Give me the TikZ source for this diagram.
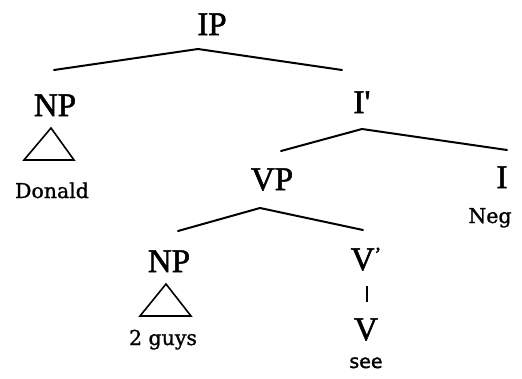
\documentclass[tikz,border=0pt]{standalone}
\usepackage{fontspec}
\setmainfont{Liberation Serif}
\newfontfamily\catfont{Liberation Serif}[FakeBold=1.6]
\newfontfamily\smallserif{DejaVu Serif}[FakeBold=1.2]
\newfontfamily\smallsans{DejaVu Sans}[FakeBold=1.5]
\begin{document}
\begin{tikzpicture}[x=1pt,y=-1pt,
  cat/.style={inner sep=0pt,anchor=base,font=\catfont\fontsize{33}{33}\selectfont},
  word/.style={inner sep=0pt,anchor=base,font=\smallserif\fontsize{20.5}{21}\selectfont},
  sword/.style={inner sep=0pt,anchor=base,font=\smallsans\fontsize{19}{19}\selectfont},
  branch/.style={line width=2pt,line cap=round,line join=round},
  tri/.style={line width=1.6pt,line join=miter}]
\useasboundingbox (0,0) rectangle (522,378);
% category labels
\node[cat] (ip) at (212,35) {IP};
\node[cat] (np1) at (55,116) {NP};
\node[cat] (ibar) at (362,113) {I\textquotesingle};
\node[cat] (vp) at (272,190) {VP};
\node[cat] (i) at (502,188) {I};
\node[cat] (np2) at (169,272) {NP};
\node[cat] (vbar) at (366,270) {V\raisebox{9pt}{\fontsize{20}{20}\selectfont\textquoteright}};
\node[cat] (v) at (366,340) {V};
% words
\node[word] (donald) at (52,198) {Donald};
\node[word] (neg) at (490,223) {Neg};
\node[word] (guys) at (163,345) {2 guys};
\node[sword] (see) at (366,368) {see};
% branch points
\coordinate (ipA) at (198,49);
\coordinate (ipL) at (54,70);
\coordinate (ipR) at (342,70);
\coordinate (ibA) at (362,129);
\coordinate (ibL) at (281,151);
\coordinate (ibR) at (507,150);
\coordinate (vpA) at (260,208);
\coordinate (vpL) at (178,231);
\coordinate (vpR) at (363,230);
\coordinate (vbT) at (367,286);
\coordinate (vbB) at (367,302);
\draw[branch] (ipL) -- (ipA) -- (ipR);
\draw[branch] (ibL) -- (ibA) -- (ibR);
\draw[branch] (vpL) -- (vpA) -- (vpR);
\draw[line width=1.5pt] (vbT) -- (vbB);
% triangles
\coordinate (t1a) at (51,128);
\coordinate (t1l) at (24,160);
\coordinate (t1r) at (74,160);
\draw[tri] (t1a) -- (t1l) -- (t1r) -- cycle;
\coordinate (t2a) at (166,284);
\coordinate (t2l) at (140,316);
\coordinate (t2r) at (191,316);
\draw[tri] (t2a) -- (t2l) -- (t2r) -- cycle;
\end{tikzpicture}
\end{document}
